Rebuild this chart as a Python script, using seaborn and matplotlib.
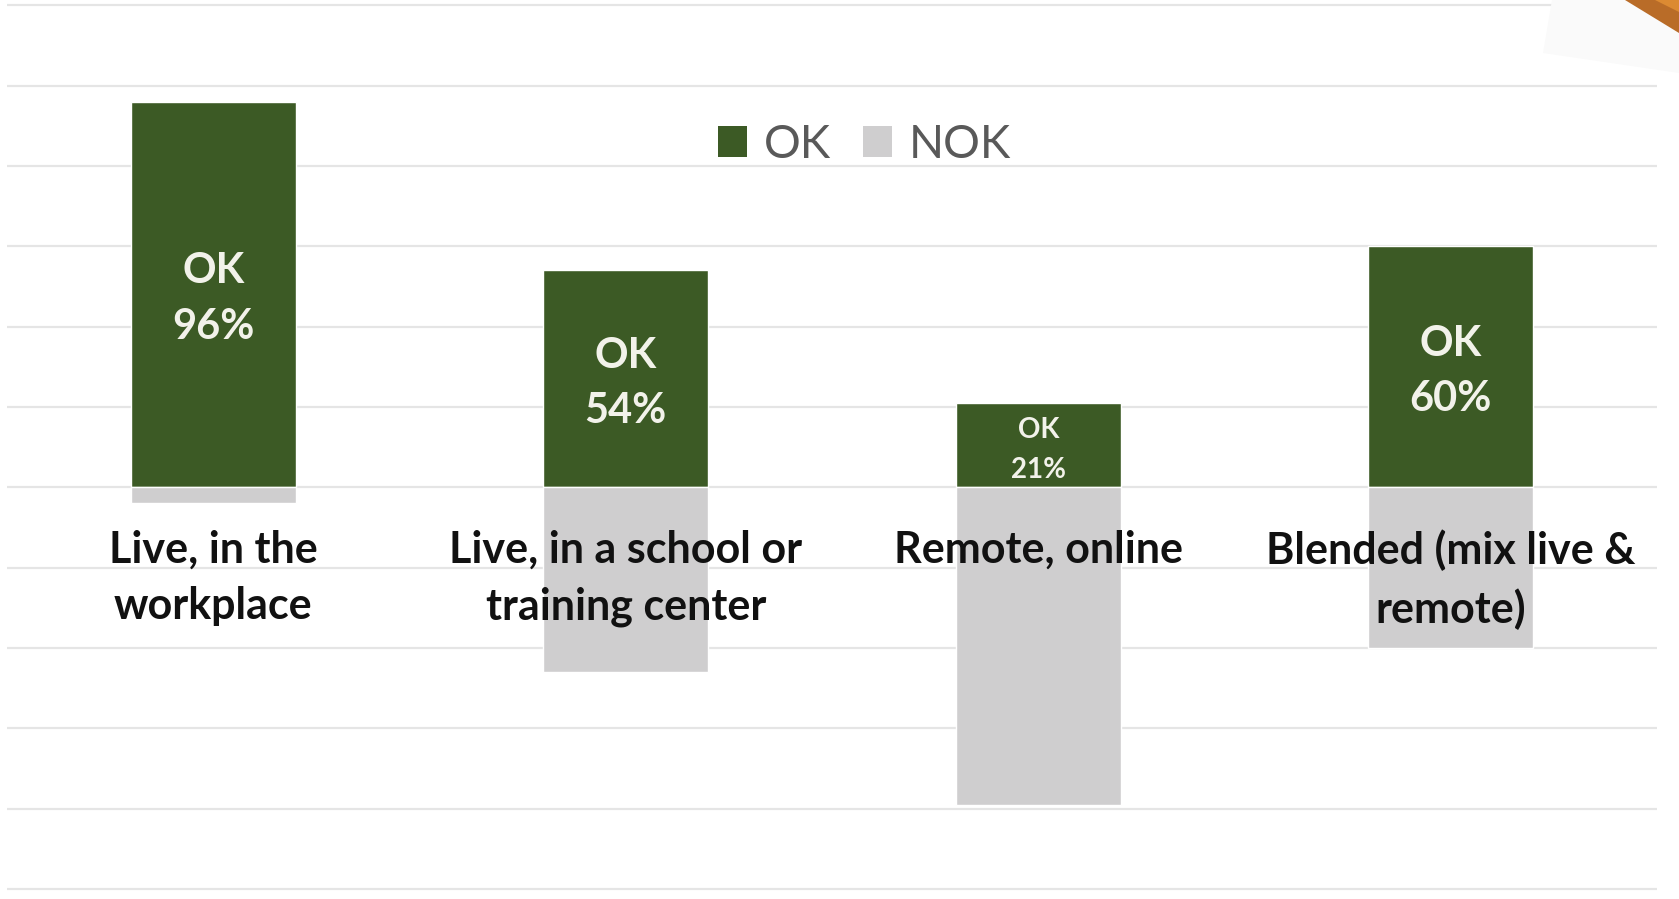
import numpy as np
import pandas as pd
import seaborn as sns
from matplotlib import pyplot as plt
from matplotlib.patches import Patch, Polygon

# data
categories = ["Live, in the\nworkplace", "Live, in a school or\ntraining center",
              "Remote, online", "Blended (mix live &\nremote)"]
ok_pct = [96, 54, 21, 60]
nok_pct = [4, 46, 79, 40]
status = ["OK", "NOK"]

green = "#3C5A25"
grey = "#CFCECF"

df = pd.DataFrame({
    "category": categories * 2,
    "status": ["OK"] * 4 + ["NOK"] * 4,
    "value": ok_pct + [-v for v in nok_pct],
})

sns.set_style("whitegrid")
plt.rcParams["font.family"] = ["Lato", "DejaVu Sans"]

fig = plt.figure(figsize=(16.79, 8.99), dpi=100)
ax = fig.add_axes([7 / 1679, 0, 1650 / 1679, 1])

sns.barplot(data=df, x="category", y="value", hue="status", order=categories,
            hue_order=status, palette={"OK": green, "NOK": grey},
            dodge=False, width=0.4, saturation=1, legend=False, ax=ax, zorder=2)

ax.set_xlim(-0.5, 3.5)
ax.set_ylim(-102.5, 121.3)
ax.set_yticks(np.arange(-100, 121, 20))
ax.grid(axis="y", color="#E5E5E5", linewidth=1.6)
ax.grid(axis="x", visible=False)
ax.set_axisbelow(True)
ax.tick_params(left=False, bottom=False, labelleft=False, labelbottom=False)
ax.set_xlabel("")
ax.set_ylabel("")
for s in ax.spines.values():
    s.set_visible(False)

# labels inside the OK bars (short bar gets a smaller label)
for i, v in enumerate(ok_pct):
    if v > 30:
        size, ls = 30, 1.57
    else:
        size, ls = 20, 1.68
    ax.text(i, v / 2 - 1.2, f"OK\n{v}%", ha="center", va="center", color="#F2F2EA",
            fontsize=size, fontweight="bold", linespacing=ls, zorder=4)

# category names under the baseline
for i, c in enumerate(categories):
    ax.text(i, -10.6, c, ha="center", va="top", color="#111111",
            fontsize=31, fontweight="bold", linespacing=1.5, zorder=5)

handles = [Patch(facecolor=green, edgecolor="none"), Patch(facecolor=grey, edgecolor="none")]
leg = ax.legend(handles, status, loc="center", bbox_to_anchor=(0.5195, 0.839), ncol=2,
                frameon=False, fontsize=33, handlelength=0.65, handleheight=0.65,
                handletextpad=0.35, columnspacing=0.7)
for t in leg.get_texts():
    t.set_color("#595959")

# corner decoration top right
fig.patches.append(Polygon([[1552 / 1679, 1], [1543 / 1679, 1 - 53 / 899], [1, 1 - 73 / 899], [1, 1]],
                           closed=True, transform=fig.transFigure, facecolor="#FAFAFA",
                           edgecolor="none", zorder=10))
fig.patches.append(Polygon([[1625 / 1679, 1], [1, 1], [1, 1 - 33 / 899]],
                           closed=True, transform=fig.transFigure, facecolor="#B96C28",
                           edgecolor="none", zorder=11))
fig.patches.append(Polygon([[1655 / 1679, 1], [1, 1], [1, 1 - 12 / 899]],
                           closed=True, transform=fig.transFigure, facecolor="#DC8A32",
                           edgecolor="none", zorder=12))

fig.savefig("out.png", dpi=100)
